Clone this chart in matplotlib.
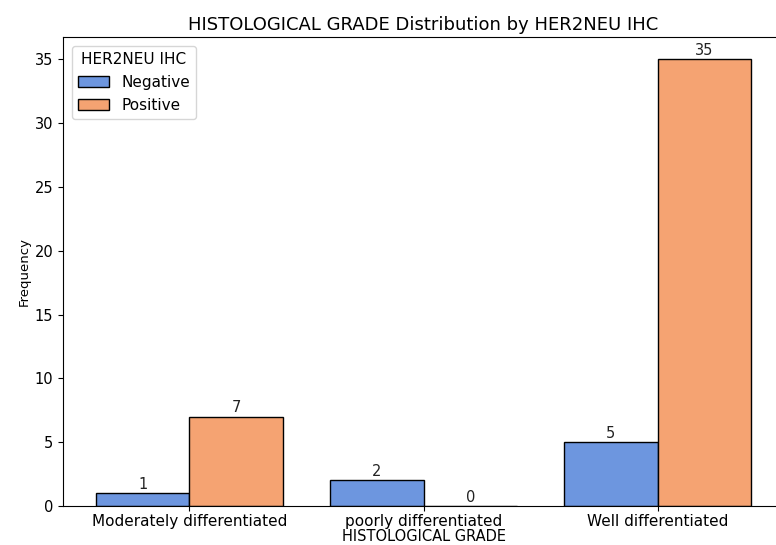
import matplotlib
matplotlib.use("Agg")
import matplotlib.pyplot as plt
import numpy as np

categories = ["Moderately differentiated", "poorly differentiated", "Well differentiated"]
hue_levels = ["Negative", "Positive"]
negative = [1, 2, 5]
positive = [7, 0, 35]

colors = ["#6D96DF", "#F5A372"]

fig = plt.figure(figsize=(7.76, 5.45), dpi=100)
ax = fig.add_axes([63/776, 39/545, (784-63)/776, (506-37)/545])

x = np.arange(len(categories))
w = 0.4
b1 = ax.bar(x - w/2, negative, w, color=colors[0], edgecolor="black", linewidth=1, label=hue_levels[0])
b2 = ax.bar(x + w/2, positive, w, color=colors[1], edgecolor="black", linewidth=1, label=hue_levels[1])
ax.bar_label(b1, fontsize=10.5, color="#222222", padding=1)
ax.bar_label(b2, fontsize=10.5, color="#222222", padding=1)

ax.set_xticks(x)
ax.set_xticklabels(categories, fontsize=11)
ax.tick_params(axis="x", pad=2.5)
ax.tick_params(axis="y", labelsize=10.5)
ax.set_ylim(0, 36.75)
ax.set_xlabel("HISTOLOGICAL GRADE", fontsize=10.5, labelpad=0)
ax.set_ylabel("Frequency", fontsize=9.5, labelpad=3)
ax.set_title("HISTOLOGICAL GRADE Distribution by HER2NEU IHC", fontsize=13, pad=5)
ax.legend(title="HER2NEU IHC", loc="upper left", fontsize=11, title_fontsize=11,
          borderaxespad=0.6)

fig.savefig("out.png", dpi=100)
